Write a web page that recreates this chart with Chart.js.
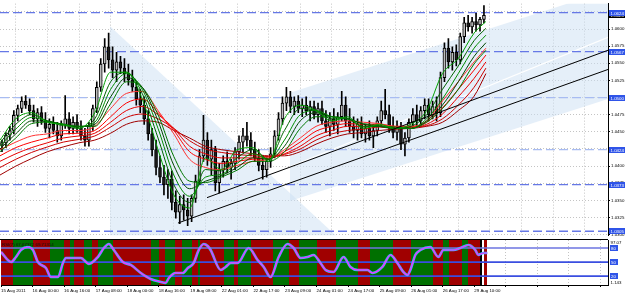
<!DOCTYPE html>
<html>
<head>
<meta charset="utf-8">
<script src="https://cdn.jsdelivr.net/npm/chart.js@4.4.1/dist/chart.umd.min.js"></script>
<style>
html,body{margin:0;padding:0;background:#fff;overflow:hidden;width:625px;height:296px;}
canvas{display:block;position:absolute;left:0;}
#c1{top:0;}
#c2{top:239px;}
</style>
</head>
<body>
<canvas id="c1" width="625" height="239"></canvas>
<canvas id="c2" width="625" height="57"></canvas>
<script>
// ---------- DATA ----------
const tickHours = [0,16,32,48,64,80,96,112,128,144,160,176,192,208,224,240];
const tickLabels = ['15 Aug 2011','16 Aug 00:00','16 Aug 16:00','17 Aug 08:00','18 Aug 00:00','18 Aug 16:00','19 Aug 08:00','22 Aug 01:00','22 Aug 17:00','23 Aug 09:00','24 Aug 01:00','24 Aug 17:00','25 Aug 09:00','26 Aug 01:00','26 Aug 17:00','29 Aug 10:00'];
const futureGridHours = [256,272,288,304];
const priceTicks = [1.0300,1.0325,1.0350,1.0375,1.0400,1.0425,1.0450,1.0475,1.0500,1.0525,1.0550,1.0575,1.0600,1.0625];

const opens = [1.0431,1.0434,1.0445,1.0452,1.0474,1.0484,1.0495,1.0489,1.0481,1.0469,
 1.0478,1.0466,1.0455,1.0461,1.0452,1.0444,1.0461,1.0469,1.0455,1.0464,
 1.0455,1.0444,1.0438,1.0458,1.0484,1.0515,1.0549,1.0574,1.0555,1.0540,
 1.0552,1.0543,1.0535,1.0526,1.0515,1.0498,1.0489,1.0469,1.0447,1.0424,
 1.0398,1.0384,1.0373,1.0381,1.0347,1.0333,1.0344,1.0336,1.0327,1.0353,
 1.0378,1.0415,1.0438,1.0410,1.0424,1.0376,1.0395,1.0407,1.0398,1.0404,
 1.0421,1.0435,1.0444,1.0438,1.0424,1.0412,1.0401,1.0395,1.0407,1.0418,
 1.0444,1.0469,1.0492,1.0501,1.0487,1.0495,1.0484,1.0489,1.0481,1.0487,
 1.0475,1.0484,1.0466,1.0458,1.0469,1.0461,1.0472,1.0489,1.0466,1.0458,
 1.0452,1.0461,1.0447,1.0455,1.0444,1.0452,1.0466,1.0481,1.0475,1.0458,
 1.0449,1.0455,1.0432,1.0441,1.0464,1.0475,1.0466,1.0481,1.0489,1.0475,
 1.0487,1.0478,1.0529,1.0572,1.0552,1.0566,1.0555,1.0589,1.0609,1.0603,
 1.0611,1.0606,1.0614];
const highs = [1.0438,1.0449,1.0458,1.0481,1.0489,1.0501,1.0503,1.0498,1.0489,1.0484,
 1.0487,1.0478,1.0469,1.0472,1.0464,1.0466,1.0503,1.0478,1.0472,1.0475,
 1.0466,1.0455,1.0464,1.0489,1.0523,1.0557,1.0586,1.0594,1.0574,1.0566,
 1.0560,1.0557,1.0549,1.0540,1.0523,1.0512,1.0501,1.0481,1.0455,1.0438,
 1.0415,1.0401,1.0395,1.0393,1.0364,1.0356,1.0358,1.0353,1.0358,1.0387,
 1.0424,1.0474,1.0449,1.0438,1.0429,1.0404,1.0415,1.0421,1.0410,1.0427,
 1.0444,1.0455,1.0464,1.0449,1.0435,1.0424,1.0415,1.0412,1.0427,1.0452,
 1.0478,1.0501,1.0515,1.0509,1.0501,1.0503,1.0498,1.0501,1.0495,1.0495,
 1.0492,1.0495,1.0481,1.0478,1.0484,1.0478,1.0509,1.0501,1.0484,1.0472,
 1.0469,1.0472,1.0461,1.0466,1.0461,1.0472,1.0495,1.0512,1.0489,1.0472,
 1.0466,1.0464,1.0449,1.0469,1.0484,1.0489,1.0487,1.0498,1.0498,1.0495,
 1.0501,1.0537,1.0580,1.0586,1.0574,1.0577,1.0594,1.0617,1.0620,1.0617,
 1.0623,1.0617,1.0634];
const lows = [1.0421,1.0427,1.0438,1.0447,1.0466,1.0478,1.0484,1.0475,1.0464,1.0458,
 1.0461,1.0449,1.0441,1.0447,1.0435,1.0438,1.0455,1.0447,1.0447,1.0449,
 1.0438,1.0429,1.0429,1.0452,1.0478,1.0509,1.0537,1.0543,1.0529,1.0523,
 1.0535,1.0523,1.0518,1.0509,1.0489,1.0478,1.0461,1.0438,1.0415,1.0387,
 1.0376,1.0358,1.0353,1.0336,1.0324,1.0316,1.0321,1.0313,1.0319,1.0347,
 1.0373,1.0407,1.0401,1.0387,1.0364,1.0361,1.0384,1.0390,1.0381,1.0395,
 1.0410,1.0421,1.0429,1.0415,1.0407,1.0393,1.0381,1.0384,1.0398,1.0412,
 1.0438,1.0461,1.0481,1.0478,1.0475,1.0478,1.0472,1.0475,1.0466,1.0469,
 1.0464,1.0461,1.0449,1.0444,1.0452,1.0447,1.0466,1.0458,1.0449,1.0441,
 1.0438,1.0441,1.0435,1.0438,1.0427,1.0444,1.0458,1.0469,1.0449,1.0441,
 1.0438,1.0424,1.0415,1.0435,1.0455,1.0458,1.0461,1.0469,1.0466,1.0469,
 1.0466,1.0472,1.0523,1.0543,1.0540,1.0546,1.0549,1.0580,1.0597,1.0594,
 1.0597,1.0597,1.0609];
const closes = [1.0434,1.0445,1.0452,1.0474,1.0484,1.0495,1.0489,1.0481,1.0469,1.0478,
 1.0466,1.0455,1.0461,1.0452,1.0444,1.0461,1.0469,1.0455,1.0464,1.0455,
 1.0444,1.0438,1.0458,1.0484,1.0515,1.0549,1.0574,1.0555,1.0540,1.0552,
 1.0543,1.0535,1.0526,1.0515,1.0498,1.0489,1.0469,1.0447,1.0424,1.0398,
 1.0384,1.0373,1.0381,1.0347,1.0333,1.0344,1.0336,1.0327,1.0353,1.0378,
 1.0415,1.0438,1.0410,1.0424,1.0376,1.0395,1.0407,1.0398,1.0404,1.0421,
 1.0435,1.0444,1.0438,1.0424,1.0412,1.0401,1.0395,1.0407,1.0418,1.0444,
 1.0469,1.0492,1.0501,1.0487,1.0495,1.0484,1.0489,1.0481,1.0487,1.0475,
 1.0484,1.0466,1.0458,1.0469,1.0461,1.0472,1.0489,1.0466,1.0458,1.0452,
 1.0461,1.0447,1.0455,1.0444,1.0452,1.0466,1.0481,1.0475,1.0458,1.0449,
 1.0455,1.0432,1.0441,1.0464,1.0475,1.0466,1.0481,1.0489,1.0475,1.0487,
 1.0478,1.0529,1.0572,1.0552,1.0566,1.0555,1.0589,1.0609,1.0603,1.0611,
 1.0606,1.0614,1.0620];

const ribbonHours = [0,8,16,24,32,40,48,56,64,72,80,88,96,104,112,120,128,136,144,152,160,168,176,184,192,200,208,216,224,232,240,246];
const green1 = [1.0438,1.0469,1.0478,1.0464,1.0461,1.0455,1.0478,1.0537,1.0537,1.0498,1.0424,1.0358,1.0339,1.0412,1.0395,1.0424,1.0427,1.0407,1.0469,1.0489,1.0481,1.0466,1.0472,1.0455,1.0461,1.0455,1.0461,1.0481,1.0535,1.0557,1.0594,1.0611];
const green2 = [1.0434,1.0461,1.0475,1.0466,1.0461,1.0457,1.0469,1.0523,1.0537,1.0506,1.0441,1.0373,1.0347,1.0395,1.0393,1.0412,1.0424,1.0410,1.0452,1.0484,1.0481,1.0469,1.0469,1.0457,1.0458,1.0455,1.0458,1.0475,1.0512,1.0546,1.0583,1.0601];
const green3 = [1.0429,1.0454,1.0471,1.0466,1.0461,1.0458,1.0464,1.0512,1.0535,1.0512,1.0455,1.0387,1.0356,1.0384,1.0388,1.0404,1.0418,1.0410,1.0438,1.0475,1.0481,1.0472,1.0469,1.0458,1.0458,1.0455,1.0455,1.0469,1.0498,1.0535,1.0572,1.0591];
const green4 = [1.0425,1.0447,1.0466,1.0465,1.0461,1.0458,1.0461,1.0501,1.0529,1.0515,1.0466,1.0401,1.0367,1.0378,1.0386,1.0398,1.0412,1.0410,1.0429,1.0466,1.0478,1.0472,1.0469,1.0461,1.0458,1.0455,1.0455,1.0466,1.0489,1.0523,1.0560,1.0580];
const green5 = [1.0421,1.0441,1.0462,1.0464,1.0459,1.0458,1.0458,1.0491,1.0523,1.0515,1.0475,1.0414,1.0378,1.0376,1.0384,1.0394,1.0407,1.0407,1.0421,1.0455,1.0472,1.0472,1.0469,1.0462,1.0459,1.0457,1.0455,1.0464,1.0484,1.0512,1.0549,1.0569];
const red1 = [1.0424,1.0435,1.0444,1.0447,1.0452,1.0452,1.0458,1.0484,1.0506,1.0509,1.0481,1.0447,1.0410,1.0398,1.0395,1.0401,1.0407,1.0410,1.0424,1.0441,1.0458,1.0464,1.0466,1.0464,1.0462,1.0458,1.0458,1.0466,1.0495,1.0523,1.0552,1.0572];
const red2 = [1.0415,1.0427,1.0435,1.0441,1.0447,1.0448,1.0452,1.0472,1.0492,1.0498,1.0478,1.0452,1.0421,1.0410,1.0404,1.0407,1.0410,1.0411,1.0421,1.0435,1.0451,1.0458,1.0462,1.0461,1.0461,1.0458,1.0458,1.0464,1.0485,1.0512,1.0540,1.0562];
const red3 = [1.0407,1.0418,1.0427,1.0434,1.0441,1.0444,1.0448,1.0464,1.0481,1.0487,1.0475,1.0455,1.0429,1.0418,1.0412,1.0412,1.0412,1.0412,1.0418,1.0429,1.0444,1.0452,1.0458,1.0458,1.0459,1.0457,1.0457,1.0461,1.0476,1.0501,1.0528,1.0552];
const red4 = [1.0398,1.0410,1.0420,1.0428,1.0435,1.0439,1.0444,1.0457,1.0471,1.0476,1.0469,1.0455,1.0437,1.0425,1.0420,1.0417,1.0415,1.0414,1.0417,1.0425,1.0438,1.0447,1.0452,1.0454,1.0457,1.0455,1.0457,1.0459,1.0469,1.0489,1.0515,1.0543];
const red5 = [1.0387,1.0400,1.0411,1.0421,1.0428,1.0434,1.0438,1.0448,1.0461,1.0466,1.0464,1.0452,1.0441,1.0429,1.0424,1.0421,1.0418,1.0415,1.0415,1.0421,1.0432,1.0441,1.0447,1.0449,1.0452,1.0454,1.0455,1.0458,1.0464,1.0481,1.0502,1.0535];

const levelPrices = [1.0624,1.0567,1.0500,1.0424,1.0373,1.0305];
const trendUpper = [[104.8,1.0354],[307.8,1.0569]];
const trendLower = [[90.1,1.0317],[307.8,1.0541]];
const descBand = [[55.7,1.0604],[182.3,1.0266],[55.7,1.0266]];
const ascBand = [[146.8,1.0507],[307.8,1.0656],[307.8,1.0498],[146.8,1.0349]];
const ascMidLine = [[146.8,1.0399],[307.8,1.0588]];

const rsiTitle = 'RSI(7) 67.67372 69.71314';
const rsiMin = 1.143, rsiMax = 97.07;
const rsiLevels = [80,50,20];
const rsiHours = [0,5.1,7.6,10.1,13.7,16.2,18.7,22.8,25.3,28.9,31.4,32.9,37,40.5,44.6,49.1,52.2,54.7,57.2,61.8,65.8,70.9,75.9,81,83.5,85.1,88.6,92.2,94.7,97.7,100.3,102.8,104.8,106.3,111.4,113.9,116.5,120,125.6,130.1,133.2,136.7,140.8,145.3,148.4,151.9,155.4,158.5,162,164.6,168.6,173.7,177.2,180.8,185.8,188.4,193.4,197.5,201,204,206.1,207.6,210.1,212.7,217.7,221.8,224.3,229.4,232.9,237,240.5,242,244.6,246.6];
const rsiValues = [71.5,50.2,60.8,75.8,82.2,75.8,50.2,37.4,18.3,18.3,48.1,58.7,58.7,58.7,46,60.8,80,88.5,75.8,50.2,43.8,26.8,14,7.6,5.5,16.1,26.8,26.8,37.4,48.1,75.8,88.5,84.3,75.8,33.2,39.6,48.1,48.1,80,54.5,39.6,18.3,60.8,88.5,80,58.7,60.8,65.1,48.1,33.2,29,60.8,39.6,33.2,33.2,26.8,39.6,65.1,48.1,29,22.5,33.2,65.1,75.8,82.2,60.8,75.8,75.8,80,86.4,75.8,65.1,69.4,69.4];
const bandEdges = [0,6,16,25,32,35,37,42,46,49,57,76,80,83,88,92,97,100,101,113,118,120,127,138,146,151,160,170,181,187,199,208,219,224,227,234,237,243,244,244.7,246.5];
const bandKinds = ['r','g','r','g','r','g','r','g','r','g','r','g','r','g','r','g','r','g','r','g','r','g','r','g','r','g','r','g','r','g','r','g','r','g','r','g','r','k','w','r'];

// ---------- STYLE ----------
const F = '"Liberation Sans", Arial, sans-serif';
const FS = 4.4;
const X_MAX = 307.8;
const AXIS_W = 17;
Chart.defaults.font.family = F;
Chart.defaults.font.size = FS;
Chart.defaults.color = '#000';
const GRID = '#c4c4c4';
const greenColors = ['#00a000','#006400','#008c00','#004800','#007800'];
const redColors = ['#ff3030','#ff0000','#e80000','#cc0000','#a00000'];
const levelColors = ['#6678e6','#6678e6','#a8bcf2','#a8bcf2','#6678e6','#6678e6'];
const bandColorMap = {r:'#a00000', g:'#007000', k:'#000000', w:'#ffffff'};

const barHours = closes.map((c, i) => 2 * i + 1);
const gridHours = tickHours.concat(futureGridHours);
const tickMap = {};
tickHours.forEach((h, i) => { tickMap[h] = tickLabels[i]; });
const pts = arr => arr.map(([x, y]) => ({x, y}));
const ribbon = arr => ribbonHours.map((h, i) => ({x: h, y: arr[i]}));

// ---------- MAIN CHART ----------
const ds = [];
ds.push({type:'line', data:pts(trendUpper), borderColor:'#000', borderWidth:1, pointRadius:0, order:0});
ds.push({type:'line', data:pts(trendLower), borderColor:'#000', borderWidth:1, pointRadius:0, order:0});
[green1,green2,green3,green4,green5].forEach((a, k) => ds.push({type:'line', data:ribbon(a), borderColor:greenColors[k], borderWidth:1, pointRadius:0, cubicInterpolationMode:'monotone', order:1}));
[red1,red2,red3,red4,red5].forEach((a, k) => ds.push({type:'line', data:ribbon(a), borderColor:redColors[k], borderWidth:1, pointRadius:0, cubicInterpolationMode:'monotone', order:2}));
ds.push({type:'bar', data:barHours.map((h, i) => ({x:h, y:[opens[i], closes[i]]})),
  backgroundColor:closes.map((c, i) => c >= opens[i] ? '#bcbcbc' : '#1e1e1e'),
  borderColor:'#000', borderWidth:1, borderSkipped:false, barThickness:3, grouped:false, order:3});
ds.push({type:'bar', data:barHours.map((h, i) => ({x:h, y:[lows[i], highs[i]]})),
  backgroundColor:'#000', borderWidth:0, barThickness:1, grouped:false, order:4});
levelPrices.forEach((p, k) => ds.push({type:'line', data:[{x:0, y:p}, {x:X_MAX, y:p}], borderColor:levelColors[k], borderWidth:1.3, borderDash:[9,4], pointRadius:0, order:6}));

const shadePlugin = {
  id:'shade',
  beforeDatasetsDraw(chart) {
    const {ctx, chartArea:a, scales:{x, y}} = chart;
    ctx.save();
    ctx.beginPath(); ctx.rect(a.left, a.top, a.width, a.height); ctx.clip();
    ctx.fillStyle = 'rgba(203,224,243,0.5)';
    [descBand, ascBand].forEach(poly => {
      ctx.beginPath();
      poly.forEach(([h, p], k) => {
        const px = x.getPixelForValue(h), py = y.getPixelForValue(p);
        if (k) ctx.lineTo(px, py); else ctx.moveTo(px, py);
      });
      ctx.closePath(); ctx.fill();
    });
    ctx.strokeStyle = '#ffffff'; ctx.lineWidth = 1.2;
    ctx.beginPath();
    ctx.moveTo(x.getPixelForValue(ascMidLine[0][0]), y.getPixelForValue(ascMidLine[0][1]));
    ctx.lineTo(x.getPixelForValue(ascMidLine[1][0]), y.getPixelForValue(ascMidLine[1][1]));
    ctx.stroke();
    ctx.restore();
  },
  afterDraw(chart) {
    const {ctx, scales:{y}} = chart;
    ctx.save();
    ctx.font = FS + 'px ' + F;
    ctx.textBaseline = 'middle'; ctx.textAlign = 'left';
    const bid = closes[closes.length - 1];
    const by = Math.round(y.getPixelForValue(bid));
    ctx.fillStyle = '#000'; ctx.fillRect(609, by - 3, 16, 6);
    ctx.fillStyle = '#fff'; ctx.fillText(bid.toFixed(4), 610.5, by + 0.3);
    levelPrices.forEach(p => {
      const py = Math.round(y.getPixelForValue(p));
      ctx.fillStyle = '#2f54e8'; ctx.fillRect(609, py - 3, 16, 6);
      ctx.fillStyle = '#fff'; ctx.fillText(p.toFixed(4), 610.5, py + 0.3);
    });
    ctx.restore();
  }
};

new Chart(document.getElementById('c1'), {
  type:'bar',
  data:{datasets:ds},
  options:{
    responsive:false, animation:false, devicePixelRatio:1, events:[],
    layout:{padding:0},
    plugins:{legend:{display:false}, tooltip:{enabled:false}},
    scales:{
      x:{type:'linear', min:0, max:X_MAX, offset:false,
        afterBuildTicks:s => { s.ticks = gridHours.map(v => ({value:v})); },
        afterFit:s => { s.height = 1; },
        ticks:{display:false},
        grid:{color:GRID, drawTicks:false, lineWidth:1},
        border:{display:false, dash:[1,2]}},
      y:{type:'linear', position:'right', min:1.0299, max:1.0637,
        afterBuildTicks:s => { s.ticks = priceTicks.map(v => ({value:v})); },
        afterFit:s => { s.width = AXIS_W; },
        ticks:{padding:1, color:'#000', font:{size:FS}, callback:v => Number(v).toFixed(4)},
        grid:{color:GRID, drawTicks:true, tickLength:2, tickColor:'#000', tickBorderDash:[]},
        border:{display:true, color:'#000', width:1, dash:[1,2]}}
    }
  },
  plugins:[shadePlugin]
});

// ---------- RSI CHART ----------
const rsiData = rsiHours.map((h, i) => ({x:h, y:rsiValues[i]}));
const rds = [];
rds.push({data:rsiData, borderColor:'#ff28ff', borderWidth:1.2, pointRadius:0, cubicInterpolationMode:'monotone', order:0});
rds.push({data:rsiData, borderColor:'#39b8ff', borderWidth:2.6, pointRadius:0, cubicInterpolationMode:'monotone', order:1});
rsiLevels.forEach((v, k) => rds.push({data:[{x:0, y:v}, {x:X_MAX, y:v}], borderColor:k === 0 ? '#6c74e0' : '#3a4ee0', borderWidth:1.6, pointRadius:0, order:2}));

const rsiPlugin = {
  id:'rsiPanel',
  beforeDatasetsDraw(chart) {
    const {ctx, chartArea:a, scales:{x}} = chart;
    ctx.save();
    for (let i = 0; i < bandKinds.length; i++) {
      const x0 = Math.round(x.getPixelForValue(bandEdges[i]));
      const x1 = Math.round(x.getPixelForValue(bandEdges[i + 1]));
      ctx.fillStyle = bandColorMap[bandKinds[i]];
      ctx.fillRect(x0, a.top, Math.max(1, x1 - x0), a.bottom - a.top);
    }
    ctx.restore();
  },
  afterDraw(chart) {
    const {ctx, chartArea:a, scales:{y}} = chart;
    ctx.save();
    ctx.strokeStyle = '#000'; ctx.lineWidth = 1;
    ctx.beginPath(); ctx.moveTo(0, 0.5); ctx.lineTo(a.right, 0.5); ctx.stroke();
    ctx.font = FS + 'px ' + F;
    ctx.textBaseline = 'middle'; ctx.textAlign = 'left';
    ctx.fillStyle = '#111';
    ctx.fillText(rsiTitle, 2, a.top + 5);
    ctx.fillStyle = '#000';
    ctx.fillText(rsiMax.toFixed(2), 610.5, y.getPixelForValue(rsiMax) + 3);
    ctx.fillText(rsiMin.toFixed(3), 610.5, y.getPixelForValue(rsiMin) - 2);
    rsiLevels.forEach(v => {
      const py = Math.round(y.getPixelForValue(v));
      ctx.fillStyle = '#2f54e8'; ctx.fillRect(610, py - 3, 8, 6);
      ctx.fillStyle = '#fff'; ctx.fillText(String(v), 611, py + 0.3);
    });
    ctx.restore();
  }
};

new Chart(document.getElementById('c2'), {
  type:'line',
  data:{datasets:rds},
  options:{
    responsive:false, animation:false, devicePixelRatio:1, events:[],
    layout:{padding:{top:1, left:0, right:0, bottom:0}},
    plugins:{legend:{display:false}, tooltip:{enabled:false}},
    scales:{
      x:{type:'linear', min:0, max:X_MAX, offset:false,
        afterBuildTicks:s => { s.ticks = gridHours.map(v => ({value:v})); },
        afterFit:s => { s.height = 11; },
        ticks:{display:true, autoSkip:false, maxRotation:0, minRotation:0, align:'start', padding:1, color:'#000', font:{size:FS},
          callback:v => tickMap[v] !== undefined ? tickMap[v] : ''},
        grid:{color:GRID, drawTicks:true, tickLength:2, tickColor:'#000', tickBorderDash:[]},
        border:{display:true, color:'#000', width:1, dash:[1,2]}},
      y:{type:'linear', position:'right', min:rsiMin, max:rsiMax,
        afterFit:s => { s.width = AXIS_W; },
        ticks:{display:false},
        grid:{drawOnChartArea:false, drawTicks:false},
        border:{display:true, color:'#000', width:1}}
    }
  },
  plugins:[rsiPlugin]
});
</script>
</body>
</html>
